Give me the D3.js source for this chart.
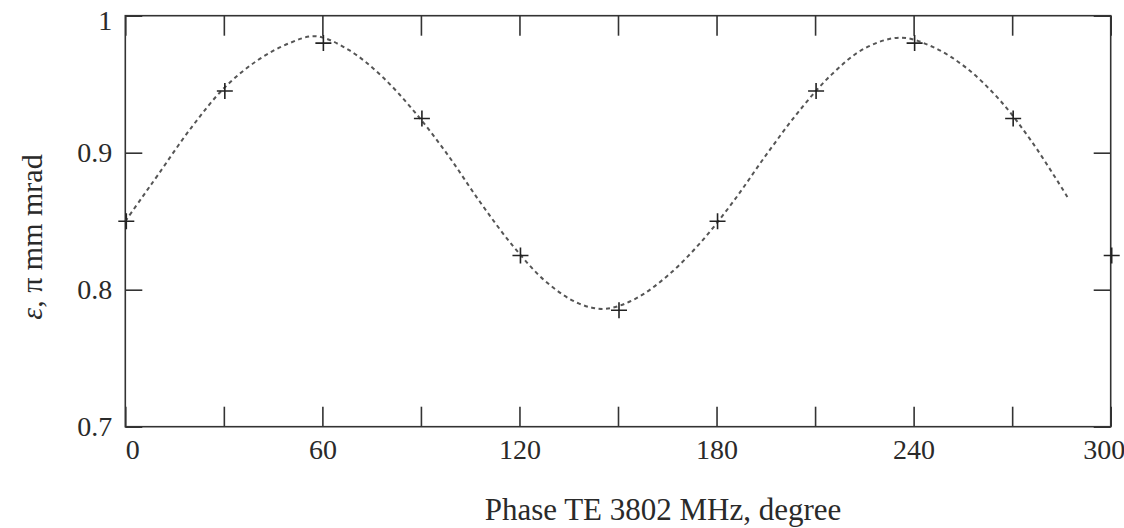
<!DOCTYPE html>
<html>
<head>
<meta charset="utf-8">
<script src="https://cdn.jsdelivr.net/npm/d3@7"></script>
<style>
  body { margin: 0; background: #fff; }
  text { font-family: "Liberation Serif", "Times New Roman", serif; fill: #2a2a2a; }
</style>
</head>
<body>
<script>
const [width, height] = [1124, 528];
const margin = {top: 15.7, right: 13.3, bottom: 101.3, left: 125.3};

// measured points (crosses)
const phase = [0, 30, 60, 90, 120, 150, 180, 210, 240, 270, 300];
const emittance = [0.85, 0.945, 0.98, 0.925, 0.825, 0.785, 0.85, 0.945, 0.98, 0.925, 0.825];

// dashed curve
const curvePhase = [0, 5, 10, 20, 30, 40, 50, 58, 68, 78, 88, 98, 108, 118, 128, 138, 146,
  155, 165, 175, 185, 195, 205, 215, 225, 236, 246, 256, 266, 276, 287];
const curveEps = [0.850, 0.867, 0.884, 0.918, 0.947, 0.967, 0.980, 0.985, 0.975, 0.956, 0.930,
  0.899, 0.864, 0.832, 0.806, 0.790, 0.786, 0.793, 0.810, 0.834, 0.864, 0.898, 0.930, 0.957,
  0.976, 0.984, 0.977, 0.962, 0.939, 0.908, 0.867];

const xTicks = d3.range(0, 301, 30);
const yTicks = [0.7, 0.8, 0.9, 1];

const svg = d3.select('body')
  .append('svg')
  .attr('width', width)
  .attr('height', height);

const x = d3.scaleLinear().domain([0, 300]).range([margin.left, width - margin.right]);
const y = d3.scaleLinear().domain([0.7, 1]).range([height - margin.bottom, margin.top]);

const fmtX = d => d % 60 === 0 ? d : '';
const fmtY = d => d === 1 ? '1' : d3.format('.1f')(d);

function styleAxis(g) {
  g.select('.domain').remove();
  g.selectAll('.tick line').attr('stroke', '#333').attr('stroke-width', 1.6);
  g.selectAll('.tick text')
    .style('font-size', '28px')
    .attr('fill', '#2a2a2a');
}

// bottom
svg.append('g')
  .attr('transform', `translate(0, ${y(0.7)})`)
  .call(d3.axisBottom(x).tickValues(xTicks).tickFormat(fmtX).tickSizeInner(-20).tickSizeOuter(0).tickPadding(12))
  .call(styleAxis)
  .call(g => g.selectAll('.tick text')
    .attr('dx', d => d === 0 ? 7 : d === 300 ? -7 : 0));

// top
svg.append('g')
  .attr('transform', `translate(0, ${y(1)})`)
  .call(d3.axisTop(x).tickValues(xTicks).tickFormat('').tickSizeInner(-20).tickSizeOuter(0))
  .call(styleAxis);

// left
svg.append('g')
  .attr('transform', `translate(${x(0)}, 0)`)
  .call(d3.axisLeft(y).tickValues(yTicks).tickFormat(fmtY).tickSizeInner(-17).tickSizeOuter(0).tickPadding(13))
  .call(styleAxis)
  .call(g => g.selectAll('.tick text')
    .attr('dy', d => d === 1 ? '0.5em' : '0.32em'));

// right
svg.append('g')
  .attr('transform', `translate(${x(300)}, 0)`)
  .call(d3.axisRight(y).tickValues(yTicks).tickFormat('').tickSizeInner(-17).tickSizeOuter(0))
  .call(styleAxis);

// frame
svg.append('rect')
  .attr('x', x(0))
  .attr('y', y(1))
  .attr('width', x(300) - x(0))
  .attr('height', y(0.7) - y(1))
  .attr('fill', 'none')
  .attr('stroke', '#333')
  .attr('stroke-width', 1.6);

// curve
const line = d3.line()
  .x((d, i) => x(curvePhase[i]))
  .y(d => y(d))
  .curve(d3.curveCatmullRom.alpha(0.5));

svg.append('path')
  .datum(curveEps)
  .attr('d', line)
  .attr('fill', 'none')
  .attr('stroke', '#555')
  .attr('stroke-width', 2)
  .attr('stroke-dasharray', '4,3.5');

// crosses
const s = 8;
svg.append('g')
  .selectAll('path')
  .data(phase)
  .enter()
  .append('path')
  .attr('d', (d, i) => {
    let cx = x(d) + 1, cy = y(emittance[i]);
    return `M${cx - s},${cy} L${cx + s},${cy} M${cx},${cy - s} L${cx},${cy + s}`;
  })
  .attr('stroke', '#222')
  .attr('stroke-width', 1.6)
  .attr('fill', 'none');

// axis titles
svg.append('text')
  .attr('x', 663)
  .attr('y', 520)
  .attr('text-anchor', 'middle')
  .style('font-size', '31px')
  .text('Phase TE 3802 MHz, degree');

svg.append('text')
  .attr('transform', `translate(42, 237) rotate(-90)`)
  .attr('text-anchor', 'middle')
  .style('font-size', '30px')
  .html('<tspan font-style="italic">ε</tspan>, π mm mrad');
</script>
</body>
</html>
